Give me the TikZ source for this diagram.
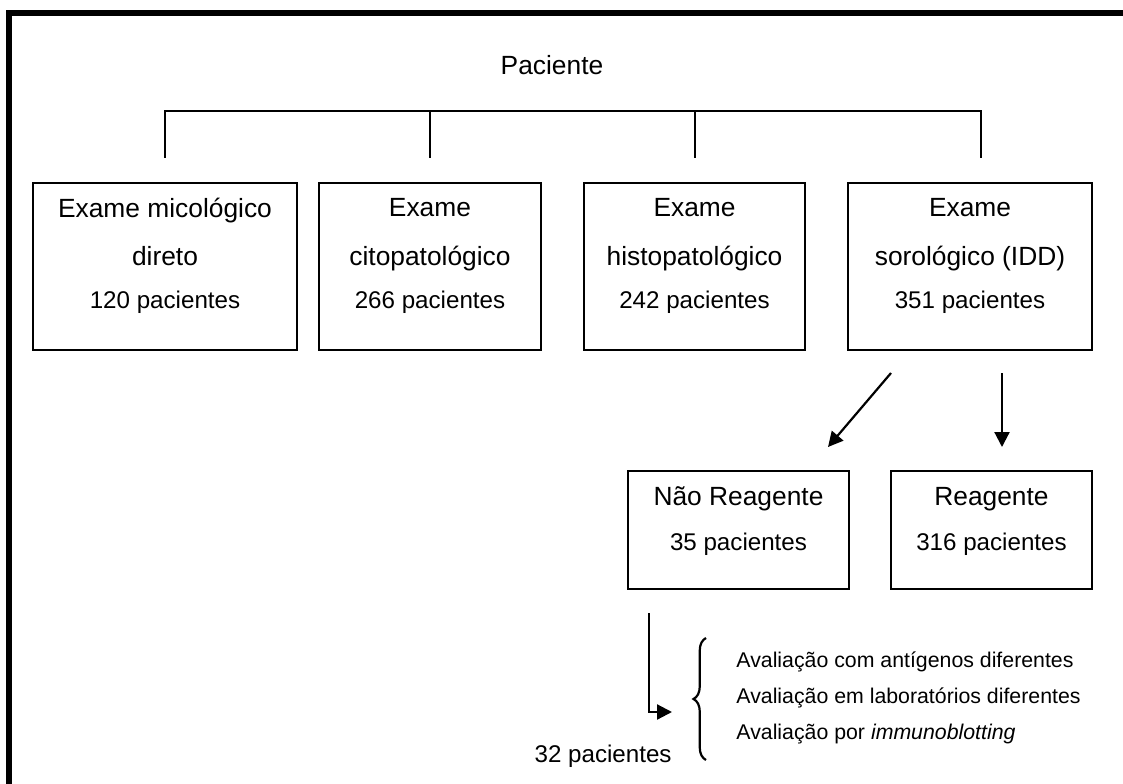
\documentclass[tikz,border=0pt]{standalone}
\usepackage{fontspec}
\setmainfont{Liberation Sans}
\usetikzlibrary{arrows.meta, decorations.pathreplacing}

\tikzset{
  exambox/.style={draw, line width=0.9pt, minimum height=2.672cm, inner sep=0pt},
  resbox/.style={draw, line width=0.9pt, minimum height=1.888cm, inner sep=0pt},
  boxtext/.style={font=\fontsize{12}{22}\selectfont, align=center, inner sep=0pt},
  smalltext/.style={font=\fontsize{9.7}{12}\selectfont, anchor=west, inner sep=0pt},
  link/.style={line width=1pt},
  arr/.style={line width=1pt, -{Triangle[length=6.8pt, width=6.8pt]}}
}
\newcommand{\npac}[1]{{\fontsize{11}{13}\selectfont #1 pacientes}}

\begin{document}
\begin{tikzpicture}[x=0.016cm, y=-0.016cm]
  \useasboundingbox (0,0) rectangle (1123,784);
  % frame
  \draw[line width=2.8pt] (9.3,800) -- (9.3,13) -- (1140,13);

  % Paciente
  \node[font=\fontsize{12}{14}\selectfont, inner sep=0pt] (pac) at (552,65) {Paciente};
  \coordinate (top1) at (165,111);
  \coordinate (top2) at (430,111);
  \coordinate (top3) at (695,111);
  \coordinate (top4) at (981,111);
  \coordinate (drop1) at (165,158);
  \coordinate (drop2) at (430,158);
  \coordinate (drop3) at (695,158);
  \coordinate (drop4) at (981,158);
  \draw[link] (drop1) -- (top1) -- (top4) -- (drop4);
  \draw[link] (top2) -- (drop2);
  \draw[link] (top3) -- (drop3);

  % exames
  \node[exambox, minimum width=4.224cm] (micol) at (165,266.5) {};
  \node[boxtext] (micoltxt) at (165,256) {Exame micológico\\direto\\[-2.4pt]\npac{120}};

  \node[exambox, minimum width=3.552cm] (cito) at (430,266.5) {};
  \node[boxtext] (citotxt) at (430,256) {Exame\\citopatológico\\[-2.4pt]\npac{266}};

  \node[exambox, minimum width=3.536cm] (histo) at (694.5,266.5) {};
  \node[boxtext] (histotxt) at (694.5,256) {Exame\\histopatológico\\[-2.4pt]\npac{242}};

  \node[exambox, minimum width=3.904cm] (soro) at (970,266.5) {};
  \node[boxtext] (sorotxt) at (970,256) {Exame\\sorológico (IDD)\\[-2.4pt]\npac{351}};

  % resultado IDD
  \coordinate (diagA) at (891,373);
  \coordinate (diagB) at (828,447);
  \coordinate (vertA) at (1002,373);
  \coordinate (vertB) at (1002,447);
  \draw[arr] (diagA) -- (diagB);
  \draw[arr] (vertA) -- (vertB);

  \node[resbox, minimum width=3.536cm] (naoreag) at (738.5,530) {};
  \node[boxtext] (naoreagtxt) at (738.5,521.5) {Não Reagente\\[-1.5pt]\npac{35}};

  \node[resbox, minimum width=3.216cm] (reag) at (991.5,530) {};
  \node[boxtext] (reagtxt) at (991.5,521.5) {Reagente\\[-1.5pt]\npac{316}};

  % reavaliacao
  \coordinate (downA) at (649,613);
  \coordinate (downB) at (649,712);
  \coordinate (downC) at (672,712);
  \draw[arr] (downA) -- (downB) -- (downC);
  \node[anchor=east, inner sep=0pt] (pac32) at (672,756) {\npac{32}};

  \coordinate (braceB) at (706,760);
  \coordinate (braceT) at (706,638);
  \draw[line width=1pt, decorate, decoration={brace, amplitude=0.2cm}] (braceB) -- (braceT);

  \node[smalltext] (aval1) at (736,662) {Avaliação com antígenos diferentes};
  \node[smalltext] (aval2) at (736,698) {Avaliação em laboratórios diferentes};
  \node[smalltext] (aval3) at (736,734) {Avaliação por \textit{immunoblotting}};
\end{tikzpicture}
\end{document}
